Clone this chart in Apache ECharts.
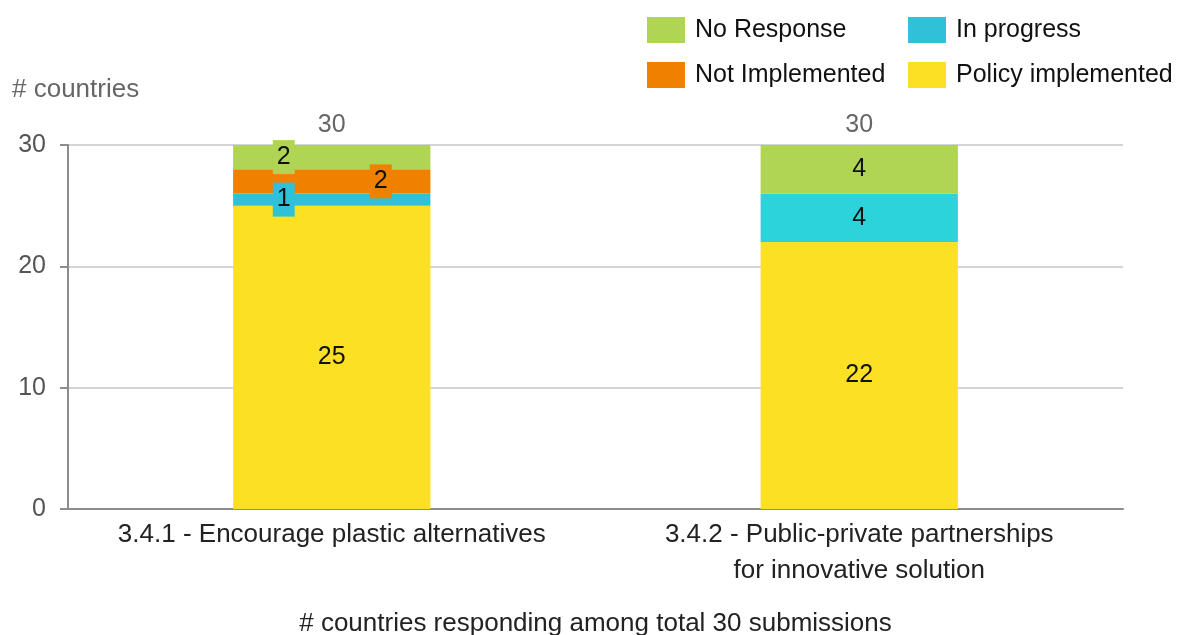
<!DOCTYPE html>
<html>
<head>
<meta charset="utf-8">
<title># countries responding</title>
<script src="https://cdn.jsdelivr.net/npm/echarts@6/dist/echarts.min.js"></script>
<style>
  html, body { margin: 0; padding: 0; background: #ffffff; }
  #chart { width: 1185px; height: 635px; }
</style>
</head>
<body>
<div id="chart"></div>
<script>
// Measures and their responses (number of countries)
const categories = [
  '3.4.1 - Encourage plastic alternatives',
  '3.4.2 - Public-private partnerships\nfor innovative solution'
];
const policyImplemented = [25, 22];
const inProgress = [1, 4];
const notImplemented = [2, 0];
const noResponse = [2, 4];
const yTicks = [0, 10, 20, 30];

const FONT = '"Liberation Sans", Arial, sans-serif';
const COLORS = {
  policy: '#fbe024',
  progress: '#30c0d8',
  progressAlt: '#2cd3db',
  notImpl: '#f08000',
  noResp: '#b0d454'
};

const totals = categories.map((_, i) =>
  policyImplemented[i] + inProgress[i] + notImplemented[i] + noResponse[i]);

// Small segments get a boxed label shifted sideways so it stays readable
function segData(values, color, offsets, colorOverrides) {
  return values.map((v, i) => {
    const c = (colorOverrides && colorOverrides[i]) || color;
    const item = { value: v, itemStyle: { color: c } };
    const off = offsets && offsets[i];
    item.label = {
      show: v > 0,
      offset: off || [0, 0],
      backgroundColor: off ? c : 'transparent',
      padding: off ? [4, 4] : 0
    };
    return item;
  });
}

const valueLabel = {
  show: true,
  position: 'inside',
  color: '#111',
  fontFamily: FONT,
  fontSize: 25,
  lineHeight: 26
};

const legendBase = {
  orient: 'vertical',
  top: 12,
  itemWidth: 38,
  itemHeight: 26,
  itemGap: 19,
  icon: 'rect',
  textStyle: { fontFamily: FONT, fontSize: 25, color: '#111', padding: [0, 0, 0, 5] }
};

const chart = echarts.init(document.getElementById('chart'), null, { renderer: 'canvas' });

chart.setOption({
  animation: false,
  textStyle: { fontFamily: FONT },
  title: {
    text: '# countries',
    left: 7,
    top: 72,
    textStyle: { fontFamily: FONT, fontSize: 26, fontWeight: 'normal', color: '#666' }
  },
  legend: [
    Object.assign({}, legendBase, { data: ['No Response', 'Not Implemented'], left: 642 }),
    Object.assign({}, legendBase, { data: ['In progress', 'Policy implemented'], left: 903 })
  ],
  grid: { left: 68, right: 62, top: 145, bottom: 126, containLabel: false, outerBoundsMode: 'none' },
  xAxis: {
    type: 'category',
    data: categories,
    name: '# countries responding among total 30 submissions',
    nameLocation: 'middle',
    nameGap: 102,
    nameTextStyle: { fontFamily: FONT, fontSize: 26, color: '#222' },
    axisLine: { show: true, lineStyle: { color: '#8c8c8c', width: 2 } },
    axisTick: { show: false },
    axisLabel: {
      interval: 0,
      margin: 8,
      color: '#222',
      fontFamily: FONT,
      fontSize: 26,
      lineHeight: 36
    }
  },
  yAxis: {
    type: 'value',
    min: yTicks[0],
    max: yTicks[yTicks.length - 1],
    interval: 10,
    axisLine: { show: true, lineStyle: { color: '#8c8c8c', width: 2 } },
    axisTick: { show: true, length: 8, lineStyle: { color: '#8c8c8c', width: 2 } },
    axisLabel: { margin: 22, color: '#555', fontFamily: FONT, fontSize: 25 },
    splitLine: { show: true, lineStyle: { color: '#d4d4d4', width: 2 } }
  },
  series: [
    {
      name: 'Policy implemented',
      type: 'bar',
      stack: 'resp',
      barWidth: '37.4%',
      itemStyle: { color: COLORS.policy },
      label: valueLabel,
      data: segData(policyImplemented, COLORS.policy)
    },
    {
      name: 'In progress',
      type: 'bar',
      stack: 'resp',
      itemStyle: { color: COLORS.progress },
      label: valueLabel,
      data: segData(inProgress, COLORS.progress, [[-48, 0], null], [null, COLORS.progressAlt])
    },
    {
      name: 'Not Implemented',
      type: 'bar',
      stack: 'resp',
      itemStyle: { color: COLORS.notImpl },
      label: valueLabel,
      data: segData(notImplemented, COLORS.notImpl, [[49, 0], null])
    },
    {
      name: 'No Response',
      type: 'bar',
      stack: 'resp',
      itemStyle: { color: COLORS.noResp },
      label: valueLabel,
      data: segData(noResponse, COLORS.noResp, [[-48, 0], null])
    },
    {
      // Invisible overlay carrying the total above each bar
      name: 'Total',
      type: 'bar',
      barGap: '-100%',
      barWidth: '37.4%',
      silent: true,
      z: 1,
      itemStyle: { color: 'rgba(0,0,0,0)' },
      label: {
        show: true,
        position: 'top',
        distance: 7,
        color: '#666',
        fontFamily: FONT,
        fontSize: 25
      },
      data: totals
    }
  ]
});
</script>
</body>
</html>
